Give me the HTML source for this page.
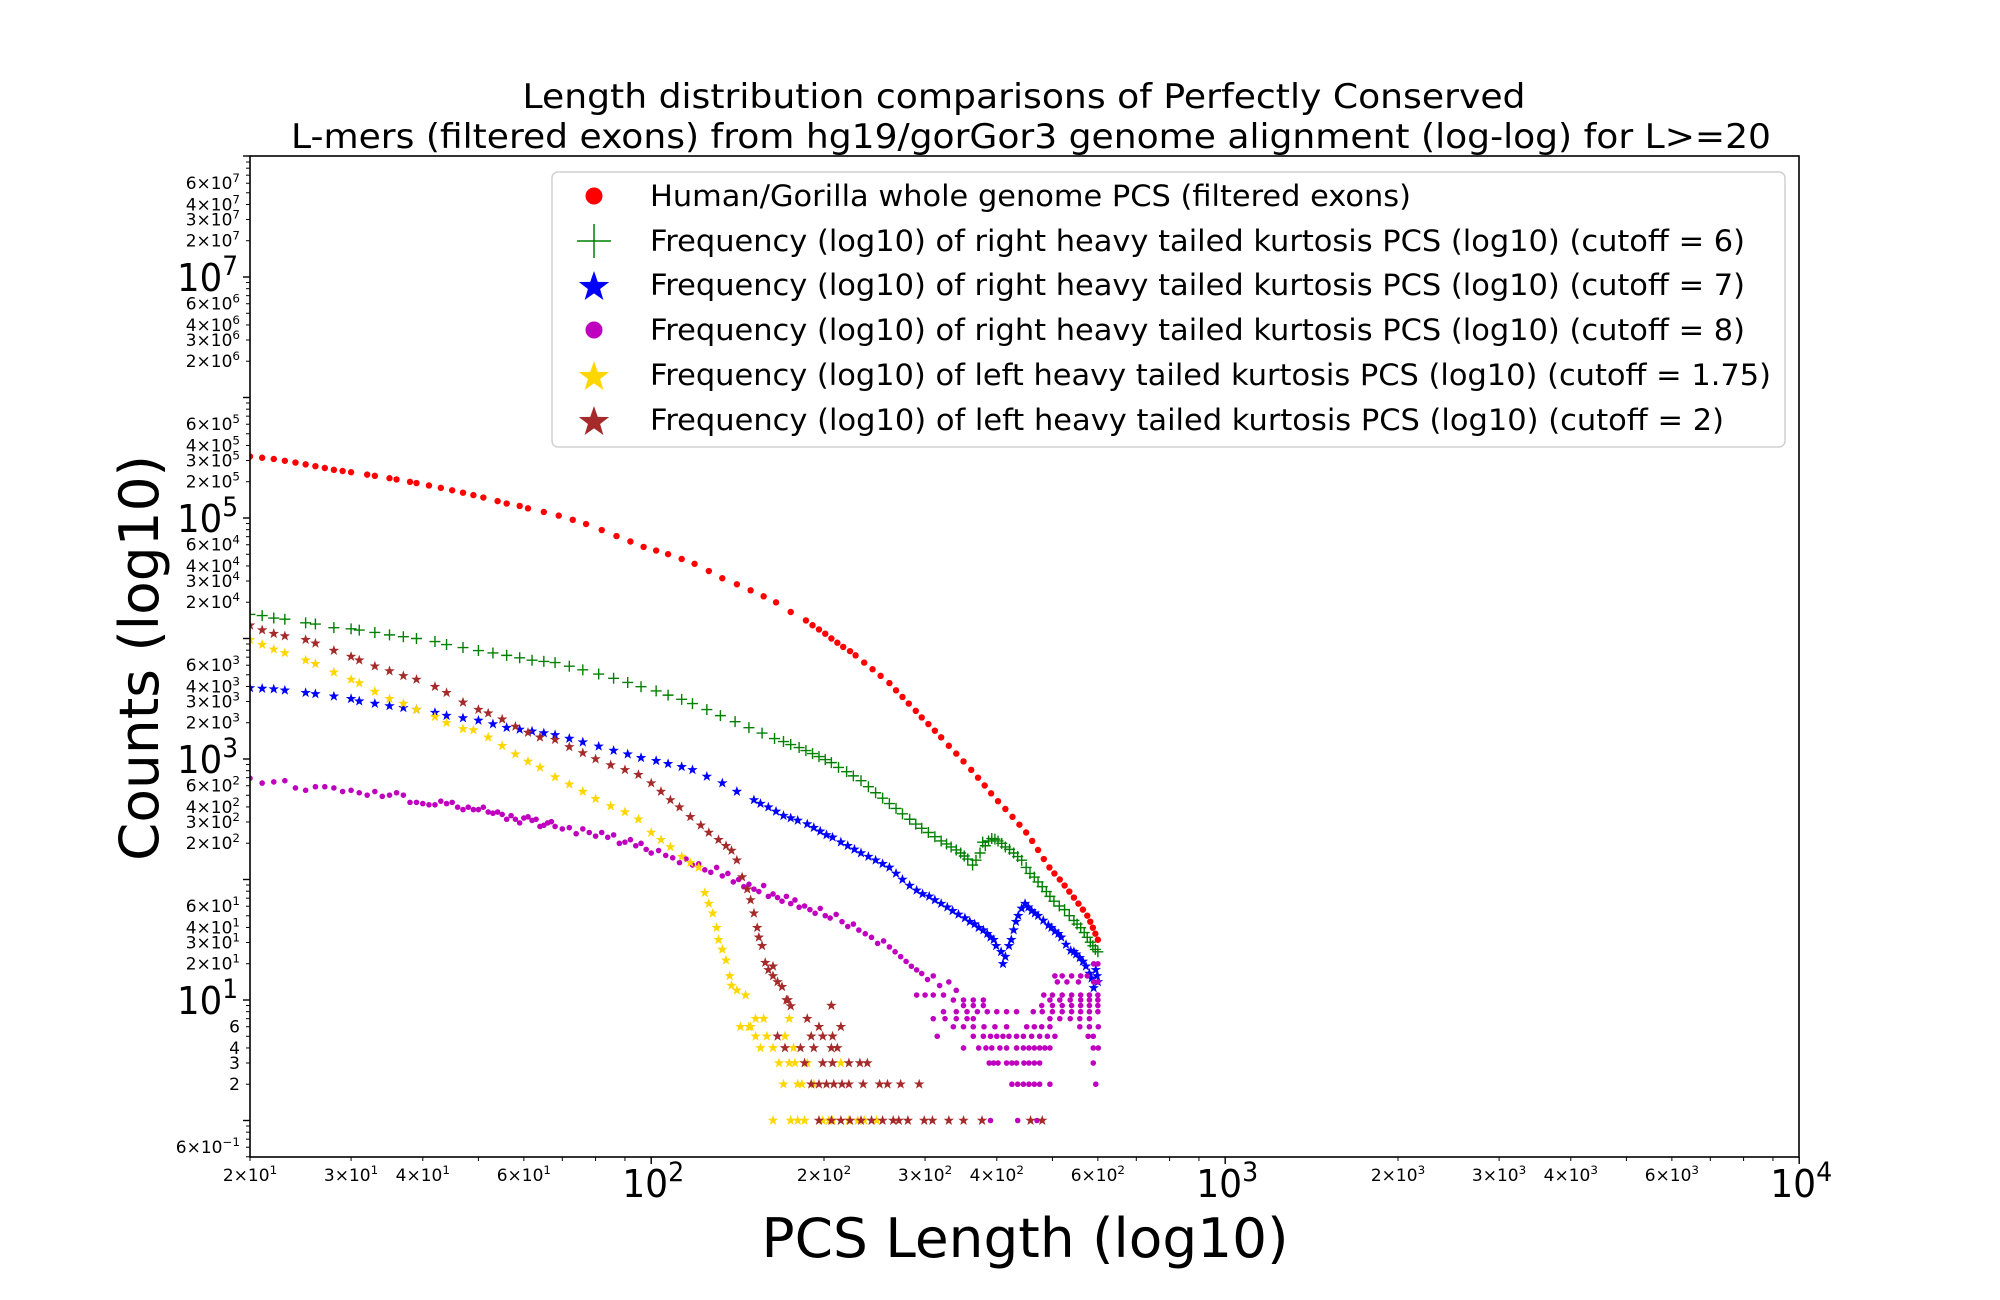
<!DOCTYPE html>
<html><head><meta charset="utf-8"><style>
html,body{margin:0;padding:0;background:#fff}
svg{display:block;font-family:"DejaVu Sans","Liberation Sans",sans-serif}
</style></head><body>
<svg id="chart" width="2000" height="1300" viewBox="0 0 2000 1300" xmlns="http://www.w3.org/2000/svg">
<rect x="0" y="0" width="2000" height="1300" fill="#fff"/>
<text x="1024" y="108" font-size="34" text-anchor="middle" textLength="1003" lengthAdjust="spacingAndGlyphs">Length distribution comparisons of Perfectly Conserved</text>
<text x="1031" y="148" font-size="34" text-anchor="middle" textLength="1480" lengthAdjust="spacingAndGlyphs">L-mers (filtered exons) from hg19/gorGor3 genome alignment (log-log) for L&gt;=20</text>
<defs><clipPath id="plotclip"><rect x="250" y="156" width="1549" height="1001"/></clipPath></defs>
<g id="ticks"></g>
<g id="marks" clip-path="url(#plotclip)"></g>
<rect x="250" y="156" width="1549" height="1001" fill="none" stroke="#000" stroke-width="1.6"/>
<text transform="translate(158,658) rotate(-90)" font-size="54" text-anchor="middle" textLength="406" lengthAdjust="spacingAndGlyphs">Counts (log10)</text>
<text x="1025" y="1257" font-size="54" text-anchor="middle" textLength="527" lengthAdjust="spacingAndGlyphs">PCS Length (log10)</text>
<g id="legend">
<rect x="552" y="172" width="1233" height="275" rx="6" fill="#fff" fill-opacity="0.8" stroke="#d0d0d0" stroke-width="1.5"/>
</g>
</svg>
<script>
// ---------- data (lengths and log10 counts) ----------
const redLen=[20,21,22,23,24,25,26,27,28,29,30,32,33,35,36,38,39,41,43,45,47,49,51,54,56,59,61,65,69,73,77,82,87,92,97,102,107,113,119,126,133,141,149,157,165,175,186,196,206,216,227,243,260,274,289,304,320,340,361,381,402,426,450,472,494,515,535,555,575,588,600,
 191,201,211,222,235,251,267,281,296,312,330,350,371,391,414,438,461,483,504,525,545,565,582,594];
const redLog=[5.51,5.50,5.49,5.475,5.46,5.445,5.43,5.415,5.40,5.39,5.38,5.36,5.35,5.33,5.32,5.30,5.29,5.27,5.25,5.23,5.21,5.19,5.17,5.14,5.12,5.10,5.08,5.05,5.02,4.985,4.95,4.90,4.85,4.805,4.76,4.73,4.70,4.66,4.62,4.56,4.50,4.45,4.40,4.35,4.30,4.22,4.15,4.075,4.00,3.93,3.86,3.745,3.63,3.515,3.40,3.29,3.18,3.045,2.91,2.78,2.65,2.52,2.39,2.245,2.10,2.00,1.90,1.80,1.70,1.60,1.50,
 4.11,4.04,3.965,3.895,3.80,3.69,3.57,3.46,3.345,3.235,3.11,2.98,2.845,2.715,2.585,2.455,2.32,2.17,2.05,1.95,1.85,1.75,1.65,1.55];

const greenLen=[20,21,22,23,25,26,28,30,31,33,35,37,39,42,44,47,50,53,56,59,62,65,68,72,76,81,86,91,96,102,107,113,118,125,132,140,148,156,164,175,186,196,206,219,232,246,260,274,289,304,320,333,346,356,363,368,374,382,392,402,414,428,442,457,472,488,503,525,545,560,575,588,600,
 170,181,191,201,212,225,239,253,267,282,296,312,327,340,351,378,387,397,408,421,435,450,465,480,495,514,535,552,568,582,594];
const greenLog=[4.20,4.19,4.17,4.16,4.13,4.12,4.09,4.08,4.07,4.05,4.03,4.015,4.00,3.975,3.95,3.925,3.90,3.88,3.86,3.84,3.82,3.81,3.80,3.77,3.74,3.705,3.67,3.635,3.60,3.565,3.53,3.495,3.46,3.41,3.36,3.31,3.26,3.215,3.17,3.12,3.07,3.02,2.97,2.895,2.82,2.72,2.63,2.545,2.46,2.39,2.32,2.27,2.22,2.17,2.12,2.16,2.22,2.28,2.34,2.32,2.27,2.22,2.16,2.05,1.98,1.90,1.82,1.75,1.66,1.60,1.52,1.45,1.40,
 3.145,3.095,3.045,2.995,2.93,2.86,2.77,2.675,2.59,2.50,2.425,2.355,2.295,2.245,2.195,2.31,2.32,2.335,2.30,2.25,2.19,2.10,2.02,1.94,1.86,1.78,1.70,1.63,1.56,1.48,1.42];

const blueLen=[20,21,22,23,25,26,28,30,31,33,35,37,39,42,44,47,50,53,56,59,62,65,68,72,76,81,86,91,96,102,107,113,118,125,133,141,151,160,170,180,187,197,207,220,232,246,260,274,290,305,320,335,352,366,379,390,399,407,414,420,428,436,448,460,472,492,505,518,538,550,565,580,590,595,600,
 155,165,175,192,202,214,226,239,253,267,282,297,312,328,343,359,372,385,395,410,424,432,442,454,466,482,498,512,528,545,558,572,585,598];
const blueLog=[3.59,3.585,3.58,3.57,3.55,3.54,3.52,3.50,3.48,3.46,3.44,3.425,3.41,3.385,3.36,3.34,3.32,3.29,3.26,3.245,3.23,3.215,3.20,3.17,3.14,3.105,3.07,3.04,3.01,2.985,2.96,2.935,2.91,2.855,2.80,2.73,2.66,2.60,2.53,2.49,2.46,2.40,2.35,2.28,2.22,2.16,2.10,2.00,1.91,1.86,1.80,1.74,1.68,1.63,1.58,1.52,1.45,1.40,1.36,1.45,1.58,1.70,1.80,1.74,1.70,1.62,1.57,1.52,1.41,1.38,1.32,1.22,1.10,1.25,1.15,
 2.63,2.565,2.51,2.43,2.37,2.31,2.25,2.19,2.13,2.05,1.95,1.88,1.83,1.77,1.71,1.65,1.60,1.55,1.50,1.30,1.50,1.65,1.76,1.77,1.72,1.66,1.60,1.55,1.46,1.40,1.35,1.28,1.18,1.20];

const magentaLen=[20,21,22,23,24,25,26,27,28,29,30,31,32,33,34,35,36,37,38,39,40,41,42,43,44,45,46,47,48,49,50,51,52,53,54,55,56,57,58,59,60,61,62,63,64,65,66,67,68,70,72,74,76,78,80,82,84,86,88,90,92,94,96,98,100,103,106,109,112,115,118,121,124,127,130,133,136,139,142,145,148,151,154,157,160,163,166,169,172,175,178,181,185,189,193,197,201,205,210,215,220,225,230,236,242,248,254,260,266,272,278,284,290,296,303,310,318,330,340];
const magentaLog=[2.84,2.80,2.81,2.82,2.76,2.74,2.77,2.77,2.76,2.73,2.74,2.72,2.70,2.73,2.69,2.70,2.72,2.70,2.64,2.64,2.63,2.62,2.62,2.65,2.63,2.64,2.60,2.58,2.60,2.58,2.58,2.60,2.56,2.55,2.56,2.54,2.50,2.53,2.50,2.47,2.51,2.52,2.49,2.50,2.44,2.45,2.47,2.48,2.44,2.42,2.43,2.38,2.42,2.39,2.36,2.39,2.35,2.37,2.30,2.31,2.33,2.28,2.30,2.25,2.22,2.24,2.20,2.18,2.14,2.17,2.12,2.13,2.08,2.06,2.10,2.03,2.05,1.98,2.00,1.94,1.96,1.92,1.90,1.95,1.86,1.88,1.85,1.82,1.86,1.80,1.83,1.77,1.78,1.75,1.72,1.76,1.70,1.68,1.71,1.65,1.61,1.63,1.58,1.55,1.52,1.47,1.49,1.44,1.40,1.36,1.32,1.28,1.25,1.22,1.17,1.20,1.12,1.15,1.08];
const magentaRowLog=[1.30,1.20,1.15,1.041,1.0,0.954,0.903,0.845,0.778,0.699,0.602,0.477,0.301,0];
const magentaRowLens=[[590,600],[505,520,540,560,575],[510,530,555,590,600],[290,300,310,323,483,500,520,540,560,580,600],[336,350,364,379,495,515,537,560,580,600],[350,364,379,479,500,520,540,560,580,600],[323,340,355,370,385,400,416,433,463,480,500,520,540,560,580,600],[310,325,340,355,364,495,515,537,558,580],[336,350,364,380,397,416,451,465,479,495,558,580,601],[315,364,379,390,400,410,420,433,445,460,475,490,505,577,589],[350,372,383,392,405,416,433,445,455,465,475,485,495,589,601],[388,395,402,416,425,433,446,455,465,475,589],[425,435,445,455,465,475,495,595],[390,435,470]];

const yellowLen=[20,21,22,23,25,26,28,30,31,33,35,37,39,42,44,47,49,52,55,58,61,64,68,72,76,80,85,90,95,100,104,108,113,117,121,124,126,128,130,131,133,135,137,138,141,146];
const yellowLog=[3.99,3.95,3.91,3.88,3.82,3.79,3.72,3.66,3.63,3.56,3.50,3.46,3.41,3.35,3.30,3.25,3.24,3.18,3.11,3.04,2.98,2.93,2.85,2.79,2.73,2.67,2.61,2.56,2.50,2.39,2.33,2.27,2.19,2.14,2.10,1.89,1.80,1.72,1.60,1.50,1.42,1.33,1.20,1.12,1.08,1.04];
const yellowRowLog=[0.845,0.778,0.699,0.602,0.477,0.301,0];
const yellowRowLens=[[152,157,174],[143,148,149],[152,159,171],[155,163,177],[167,174,178,187,214],[170,180,183,192],[163,175,180,185,199,204,207,221,229,235,247]];

const brownLen=[20,21,22,23,25,26,28,30,31,33,35,37,39,42,44,47,50,52,55,58,61,64,68,72,76,80,85,90,95,100,104,108,112,117,122,126,131,135,138,141,144,147,149,151,153,154,156,158,160,163,166,169,172,175];
const brownLog=[4.11,4.07,4.04,4.02,3.99,3.96,3.90,3.85,3.82,3.77,3.73,3.69,3.66,3.60,3.55,3.47,3.41,3.38,3.33,3.27,3.22,3.18,3.16,3.10,3.05,3.00,2.95,2.91,2.87,2.80,2.73,2.66,2.60,2.52,2.45,2.39,2.33,2.28,2.24,2.16,2.02,1.92,1.83,1.72,1.60,1.52,1.45,1.31,1.25,1.20,1.15,1.11,1.00,0.95];
const brownRowLog=[1.28,1.0,0.954,0.845,0.778,0.699,0.602,0.477,0.301,0];
const brownRowLens=[[163],[173],[206],[187],[196,214],[166,190,199,207],[171,182,192,206,211],[185,199,207,221,231,238],[190,196,202,208,215,221,234,250,258,272,293],[196,206,214,222,232,242,253,264,270,280,299,309,330,350,377,458,480]];

const xMajorVals=[100,1000,10000];
const xMajorExp=["2","3","4"];
const yMajorLogs=[1,3,5,7];
const minorMult=[2,3,4,6];

// ---------- scales ----------
const X0=250, XPD=574, Y1=1000, YPD=120.5;
function xs(v){return X0+XPD*Math.log10(v/20);}
function ys(l){return Y1-YPD*(l-1);}
const NS="http://www.w3.org/2000/svg";
function mk(tag,attrs,parent){const e=document.createElementNS(NS,tag);for(const k in attrs)e.setAttribute(k,attrs[k]);parent.appendChild(e);return e;}
function starPts(cx,cy,r){let p=[];for(let i=0;i<10;i++){const a=-Math.PI/2+i*Math.PI/5;const rr=i%2?r*0.4:r;p.push((cx+rr*Math.cos(a)).toFixed(2)+","+(cy+rr*Math.sin(a)).toFixed(2));}return p.join(" ");}

const marks=document.getElementById("marks");
function drawSeries(name,lens,logs,kind,color,size){
  const g=mk("g",{},marks);
  
  
  for(let i=0;i<lens.length;i++){
    const cx=xs(lens[i]),cy=ys(logs[i]);let e;
    if(kind==="dot"){e=mk("circle",{cx:cx,cy:cy,r:size,fill:color},g);}
    else if(kind==="plus"){e=mk("path",{d:`M${cx-size},${cy}H${cx+size}M${cx},${cy-size}V${cy+size}`,stroke:color,"stroke-width":1.4,fill:"none"},g);}
    else {e=mk("polygon",{points:starPts(cx,cy,size),fill:color},g);}
    
    
  }
  return g;
}
function drawRows(name,rowLogs,rowLens,kind,color,size){
  for(let r=0;r<rowLogs.length;r++){
    const L=rowLens[r];const lg=L.map(()=>rowLogs[r]);
    drawSeries(name,L,lg,kind,color,size);
  }
}
drawSeries("human-gorilla-series",redLen,redLog,"dot","#ff0000",3.2);
drawSeries("right-kurtosis-cutoff-6-series",greenLen,greenLog,"plus","#008000",5.5);
drawSeries("right-kurtosis-cutoff-7-series",blueLen,blueLog,"star","#0000ff",5.5);
drawSeries("right-kurtosis-cutoff-8-series",magentaLen,magentaLog,"dot","#bf00bf",2.8);
drawRows("right-kurtosis-cutoff-8-series",magentaRowLog,magentaRowLens,"dot","#bf00bf",2.8);
drawSeries("left-kurtosis-cutoff-1-75-series",yellowLen,yellowLog,"star","#ffd700",5.5);
drawRows("left-kurtosis-cutoff-1-75-series",yellowRowLog,yellowRowLens,"star","#ffd700",5.5);
drawSeries("left-kurtosis-cutoff-2-series",brownLen,brownLog,"star","#a52a2a",5.5);
drawRows("left-kurtosis-cutoff-2-series",brownRowLog,brownRowLens,"star","#a52a2a",5.5);

// ---------- ticks ----------
const tg=document.getElementById("ticks");
function supText(parent,x,y,base,exp,fs,anchor,name,tl){
  const t=mk("text",{x:x,y:y,"font-size":fs,"text-anchor":anchor},parent);
  if(tl){t.setAttribute("textLength",tl);t.setAttribute("lengthAdjust","spacingAndGlyphs");}
  
  
  const a=mk("tspan",{},t);a.textContent=base;
  if(exp!==null){const b=mk("tspan",{dy:-fs*0.42,"font-size":fs*0.7},t);b.textContent=exp;}
  return t;
}
// x ticks
for(let k=1;k<=3;k++){for(let m=1;m<=9;m++){
  const v=m*Math.pow(10,k);if(v<20||v>10000)continue;
  const x=xs(v);const major=(m===1);
  const l=mk("line",{x1:x,x2:x,y1:1157,y2:1157+(major?7:4),stroke:"#000","stroke-width":major?1.4:1},tg);
  
  
  if(!major&&minorMult.includes(m)){supText(tg,x,1181,m+"\u00d710",String(k),17,"middle","x-minor-tick-label");}
}}
mk("line",{x1:xs(10000),x2:xs(10000),y1:1157,y2:1164,stroke:"#000","stroke-width":1.4},tg);
xMajorVals.forEach((v,i)=>{supText(tg,xs(v)+2,1197,"10",xMajorExp[i],38,"middle","x-major-tick-label",62);});
// y ticks
for(let k=-1;k<=7;k++){for(let m=1;m<=9;m++){
  const v=m*Math.pow(10,k);if(v<0.5||v>1e8)continue;
  const y=ys(Math.log10(v));const major=(m===1);
  const l=mk("line",{x1:250,x2:250-(major?7:4),y1:y,y2:y,stroke:"#000","stroke-width":major?1.4:1},tg);
  
  
  if(!major&&minorMult.includes(m)){
    if(k===0) supText(tg,240,y+6,String(m),null,17,"end","y-minor-tick-label");
    else if(k>=1) supText(tg,240,y+6,m+"\u00d710",String(k),17,"end","y-minor-tick-label");
    else if(m===6) supText(tg,240,y+6,"6\u00d710","\u22121",17,"end","y-minor-tick-label");
  }
}}
mk("line",{x1:250,x2:243,y1:156,y2:156,stroke:"#000","stroke-width":1.4},tg);
yMajorLogs.forEach(l=>{supText(tg,238,ys(l)+14,"10",String(l),38,"end","y-major-tick-label",61);});

// ---------- legend ----------
const lg=document.getElementById("legend");
const legLabels=["Human/Gorilla whole genome PCS (filtered exons)","Frequency (log10) of right heavy tailed kurtosis PCS (log10) (cutoff = 6)","Frequency (log10) of right heavy tailed kurtosis PCS (log10) (cutoff = 7)","Frequency (log10) of right heavy tailed kurtosis PCS (log10) (cutoff = 8)","Frequency (log10) of left heavy tailed kurtosis PCS (log10) (cutoff = 1.75)","Frequency (log10) of left heavy tailed kurtosis PCS (log10) (cutoff = 2)"];
const legWidths=[761,1095,1095,1095,1121,1074];
const legKinds=["dot","plus","star","dot","star","star"];
const legColors=["#ff0000","#008000","#0000ff","#bf00bf","#ffd700","#a52a2a"];
const legY=[196,241,285,330,375,420];
for(let i=0;i<6;i++){
  const g=mk("g",{},lg);
  
  
  const cx=594,cy=legY[i];
  if(legKinds[i]==="dot")mk("circle",{cx:cx,cy:cy,r:8.5,fill:legColors[i]},g);
  else if(legKinds[i]==="plus")mk("path",{d:`M${cx-17},${cy}H${cx+17}M${cx},${cy-17}V${cy+17}`,stroke:legColors[i],"stroke-width":1.5,fill:"none"},g);
  else mk("polygon",{points:starPts(cx,cy+2,16),fill:legColors[i]},g);
  const t=mk("text",{x:650,y:cy+10,"font-size":29,textLength:legWidths[i],lengthAdjust:"spacingAndGlyphs"},g);
  
  
  t.textContent=legLabels[i];
}
</script>
</body></html>
